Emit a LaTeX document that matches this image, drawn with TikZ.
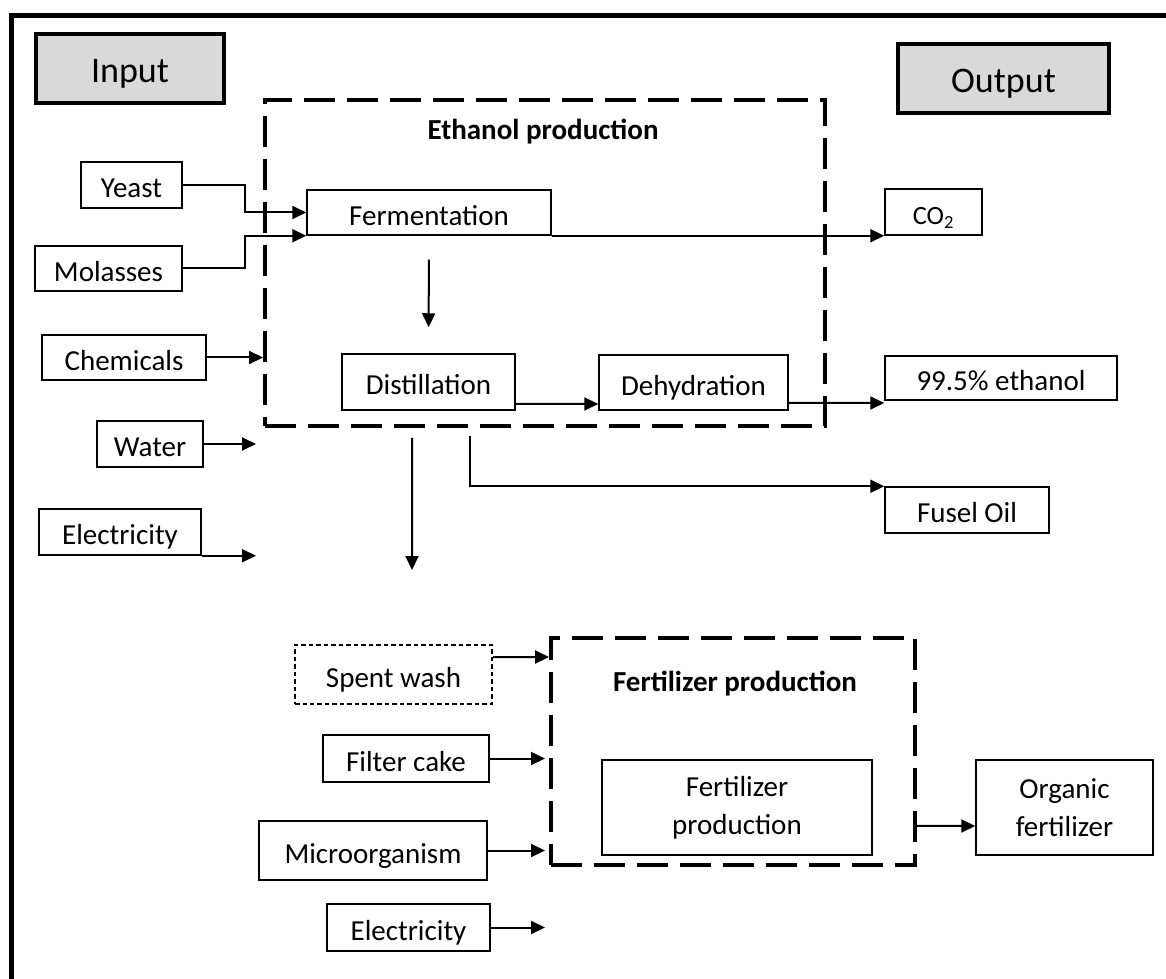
\documentclass[tikz,border=0pt]{standalone}
\usepackage{fontspec}
\setmainfont{Carlito}
\usetikzlibrary{arrows.meta}
\definecolor{boxgray}{HTML}{D9D9D9}
\tikzset{
  plain/.style={draw,line width=0.85pt,inner sep=0pt,align=center,font=\fontsize{16.5}{21.5}\selectfont},
  box/.style={plain,text height=16.5pt,text depth=1.9pt},
  head/.style={draw,line width=0.07cm,fill=boxgray,inner sep=0pt,text height=19pt,text depth=2.5pt,font=\fontsize{20.5}{24}\selectfont},
  stage/.style={draw,line width=0.08cm,dash pattern=on 0.62cm off 0.24cm,inner sep=0pt},
  stagetitle/.style={inner sep=0pt,font=\fontsize{16.5}{20}\selectfont\bfseries},
  wh/.style 2 args={minimum width=#1*0.02cm,minimum height=#2*0.02cm},
  arr/.style={line width=0.04cm,-{Triangle[length=0.28cm,width=0.26cm]}}
}
\begin{document}
\begin{tikzpicture}[x=0.02cm,y=-0.02cm]
\useasboundingbox (0,0) rectangle (1166,979);
% Frame
\draw[line width=0.1cm] (11.5,1000) -- (11.5,15.5) -- (1200,15.5);
\node[head,wh={188}{69}] (input) at (130,68.5) {Input};
\node[head,wh={211}{69}] (output) at (1003.5,78.5) {Output};

% Ethanol production
\node[stage,wh={560}{326}] (ethbox) at (545,263) {};
\node[stagetitle] (ethtitle) at (543,132) {Ethanol production};
\node[box,wh={244}{45}] (ferm) at (429,212.5) {Fermentation};
\node[box,wh={173}{56}] (distill) at (428.5,382) {Distillation};
\node[box,wh={189}{55}] (dehyd) at (693.5,382.5) {Dehydration};

% Inputs
\node[box,wh={101}{46}] (yeast) at (131.5,185) {Yeast};
\node[box,wh={147}{45}] (molasses) at (108.5,268.5) {Molasses};
\node[box,wh={164}{45}] (chem) at (124,357.5) {Chemicals};
\node[box,wh={106}{46}] (water) at (150,444) {Water};
\node[box,wh={162}{46}] (elec) at (120,532) {Electricity};

% Outputs
\node[box,wh={97}{46},font=\fontsize{15}{18}\selectfont] (co2) at (933.5,212) {CO\textsubscript{2}};
\node[box,wh={232}{44}] (ethanol) at (1001,378) {99.5\% ethanol};
\node[box,wh={164}{46}] (fusel) at (967,510) {Fusel Oil};
\coordinate (wash) at (412,570);

\draw[arr] (yeast.east) -- ++(62,0) |- (ferm.west);
\draw[arr] (molasses.east) -- ++(62,0) |- (ferm.south west);
\draw[arr] (chem.east) -- (chem.east -| ethbox.west);
\foreach \n/\a in {water/east,elec/south east}
  \draw[arr,shorten >=0.14cm] (\n.\a) -- (\n.\a -| ethbox.west);
\draw[arr,shorten <=0.48cm,shorten >=0.52cm] (ferm.south) -- (distill.north);
\draw[arr] (ferm.south east) -- (ferm.south east -| co2.west);
\draw[arr] ([yshift=-0.44cm]distill.east) -- ([yshift=-0.43cm]dehyd.west);
\draw[arr] ([yshift=-0.41cm]dehyd.east) -- ([yshift=-0.5cm]ethanol.west);
\draw[arr] ([xshift=-2.66cm,yshift=-0.2cm]ethbox.south) -- (wash);
\draw[arr] ([xshift=-1.5cm,yshift=-0.16cm]ethbox.south) |- (fusel.north west);

% Fertilizer production
\node[stage,wh={364}{227}] (fertbox) at (733,751.5) {};
\node[stagetitle] (ferttitle) at (735,684) {Fertilizer production};
\node[plain,wh={270}{95}] (fert) at (737,807.5) {Fertilizer\\production};
\node[plain,wh={177}{95}] (organic) at (1064.5,807.5) {Organic\\fertilizer};
\node[box,wh={197}{59},dash pattern=on 0.09cm off 0.06cm] (spent) at (393.5,674.5) {Spent wash};
\node[box,wh={166}{47}] (filter) at (406,758.5) {Filter cake};
\node[box,wh={228}{59}] (micro) at (373,850.5) {Microorganism};
\node[box,wh={163}{47}] (elec2) at (408.5,927.5) {Electricity};

\draw[arr] ([yshift=0.35cm]spent.east) -- ([yshift=1.89cm]fertbox.west);
\foreach \n in {filter,micro,elec2}
  \draw[arr,shorten >=0.08cm] (\n.east) -- (\n.east -| fertbox.west);
\draw[arr] ([yshift=-1.49cm]fertbox.east) -- ([yshift=-0.37cm]organic.west);
\end{tikzpicture}
\end{document}
